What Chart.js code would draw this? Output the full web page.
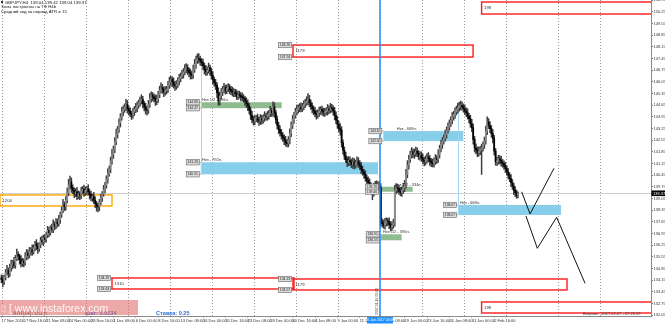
<!DOCTYPE html>
<html>
<head>
<meta charset="utf-8">
<script src="https://cdn.jsdelivr.net/npm/chart.js@4.4.1/dist/chart.umd.min.js"></script>
<style>
  html, body { margin: 0; padding: 0; background: #fff; overflow: hidden; }
  canvas { display: block; }
</style>
</head>
<body>
<canvas id="chart" width="665" height="325"></canvas>
<script>
// GBPJPY H4 closes, one per bar
const firstOpen = 134.30;
const closes = [
  134.20,134.05,134.35,134.60,134.75,134.55,134.90,135.10,135.25,135.05,
  135.45,135.70,135.60,135.40,135.15,135.30,135.20,135.55,135.80,135.65,
  135.90,136.00,135.85,136.10,136.35,136.20,136.05,136.30,136.55,136.45,
  136.70,136.60,136.90,137.15,137.00,137.30,137.20,137.50,137.40,137.65,
  137.55,137.80,138.10,138.35,138.70,138.55,138.95,139.40,139.85,140.05,
  139.70,139.55,139.35,139.45,139.20,139.35,139.25,139.50,139.60,139.40,
  139.55,139.65,139.45,139.30,139.10,139.20,138.95,138.75,138.60,138.55,
  138.85,139.10,139.35,139.60,139.85,140.20,140.55,140.80,141.30,141.70,
  142.00,142.45,142.90,143.20,143.60,143.95,144.25,144.40,144.55,144.70,
  144.45,144.30,144.15,144.05,144.25,144.40,144.50,144.65,144.80,144.90,
  145.00,144.75,144.55,144.40,144.35,144.70,145.05,145.25,145.15,145.05,
  144.90,145.00,145.30,145.55,145.70,145.60,145.45,145.55,145.60,145.85,
  146.05,146.20,146.05,145.90,145.80,145.90,146.10,146.25,146.40,146.50,
  146.65,146.80,146.90,146.75,146.60,146.50,146.45,146.80,147.10,147.35,
  147.45,147.40,147.30,147.20,147.00,146.80,146.65,146.75,146.90,146.70,
  146.45,146.20,146.00,145.85,145.40,144.90,145.20,145.45,145.60,145.70,
  145.55,145.65,145.75,145.60,145.50,145.40,145.45,145.35,145.20,145.30,
  145.25,145.15,145.10,145.05,144.90,144.75,144.60,144.35,144.05,143.80,
  143.70,143.85,143.90,143.80,143.70,143.85,143.75,143.90,144.00,143.95,
  144.05,144.15,144.30,144.20,144.55,144.20,143.80,143.45,143.20,143.00,
  142.85,142.70,142.55,142.40,142.35,142.55,142.95,143.45,143.80,144.05,
  144.25,144.40,144.50,144.55,144.45,144.60,144.70,144.80,144.90,145.00,
  144.80,144.60,144.45,144.30,144.15,144.05,144.20,144.30,144.40,144.30,
  144.20,144.25,144.30,144.45,144.35,144.50,144.45,144.30,144.05,143.75,
  143.50,143.25,143.15,142.40,141.95,141.60,141.40,141.20,141.35,141.25,
  141.10,141.25,141.05,141.20,141.30,141.15,141.00,140.80,140.65,140.50,
  140.30,140.15,140.00,139.85,139.60,139.40,139.70,139.90,139.80,139.85,
  139.75,137.65,137.55,137.45,137.60,137.70,137.65,137.50,137.35,137.45,
  137.60,139.55,139.70,139.65,139.50,139.40,139.55,139.70,139.90,140.50,
  141.05,141.40,141.70,141.85,141.70,141.80,141.90,141.75,141.60,141.65,
  141.50,141.35,141.25,141.40,141.55,141.45,141.30,141.20,141.15,141.30,
  141.45,141.40,141.70,142.05,142.30,142.50,142.70,142.90,143.15,143.35,
  143.55,143.75,143.95,144.10,144.25,144.40,144.50,144.60,144.65,144.55,
  144.45,144.30,144.20,144.00,143.85,143.55,143.30,142.60,142.10,141.95,
  141.80,141.90,142.00,142.10,142.30,142.50,143.10,143.65,143.45,143.25,
  142.95,142.65,141.90,141.25,141.30,141.45,141.35,141.20,141.15,141.00,
  140.85,140.65,140.45,140.25,140.00,139.80,139.55,139.40,139.25,139.37
];

// wick lengths above / below the body, in hundredths of a yen
const upWick = [
  18,25,12,20,30,15,22,26,10,28, 20,32,16,12,24,18,14,26,20,16, 22,12,28,18,14,24,20,10,18,26, 16,20,14,24,18,12,22,28,16,20,
  18,24,14,20,30,16,22,28,36,35, 24,18,14,20,28,16,12,22,18,26, 20,14,24,16,18,12,22,20,14,18, 16,20,12,24,18,22,28,20,24,30,
  20,26,32,18,24,20,28,22,18,30, 24,16,20,14,22,18,26,20,16,24, 28,18,14,22,20,24,30,20,16,18, 22,26,18,24,30,20,16,22,18,24,
  28,20,16,24,18,22,20,26,18,24, 20,28,24,18,16,22,20,26,30,24, 28,30,20,16,22,18,24,20,28,16, 18,22,14,20,16,30,24,20,18,26,
  16,22,20,14,18,24,20,16,22,18, 20,16,24,18,14,20,22,16,18,24, 20,18,14,22,16,24,20,18,26,16, 22,20,28,18,30,24,16,20,18,22,
  20,16,18,24,20,22,28,20,24,18, 22,26,18,20,24,16,22,20,26,35, 24,18,20,16,22,20,18,24,16,20, 18,22,20,24,16,26,20,18,22,20,
  24,20,30,22,18,20,24,16,22,20, 18,24,20,16,26,20,18,22,20,16, 22,18,20,24,16,20,26,18,22,20, 24,20,18,22,26,20,16,24,18,20,
  22,30,24,20,18,22,20,26,24,30, 28,24,20,26,18,22,24,20,18,22, 20,24,18,22,20,26,18,16,22,20, 24,18,28,20,24,22,18,26,20,24,
  22,20,26,18,24,20,28,22,25,20, 18,22,20,24,16,20,26,22,18,24, 20,24,18,22,16,24,30,30,20,22, 18,24,20,16,22,20,18,24,20,16,
  22,18,20,16,24,20,18,22,16,8
];
const loWick = [
  20,30,14,18,12,24,16,20,26,14, 18,12,22,28,20,16,24,14,18,22, 16,24,20,12,18,22,28,16,20,14, 22,18,16,20,24,14,18,20,22,16,
  20,16,24,18,14,22,20,16,18,24, 28,20,24,18,22,16,26,20,18,22, 16,24,20,28,18,22,20,24,30,30, 22,18,24,16,20,18,22,16,20,18,
  24,20,16,22,18,26,20,24,18,22, 28,24,20,26,18,22,20,24,18,20, 18,26,24,28,30,20,18,22,24,20, 26,22,18,20,16,24,28,20,22,18,
  20,24,28,22,26,20,18,24,20,16, 22,18,20,26,24,28,22,20,18,24, 20,22,26,18,24,28,22,20,18,26, 24,28,22,26,30,25,24,18,22,20,
  24,20,18,26,22,20,24,18,20,22, 18,24,20,22,26,24,28,22,26,20, 24,22,18,20,26,20,24,18,22,20, 20,24,18,22,20,28,24,22,26,20,
  24,22,26,20,20,20,22,18,20,24, 18,20,22,24,20,18,22,20,16,22, 24,20,26,22,20,24,18,22,20,24, 20,22,18,24,20,16,22,24,28,20,
  24,22,30,26,24,22,20,24,18,22, 20,24,22,18,20,24,22,26,20,24, 22,24,20,26,24,42,20,22,18,24, 20,26,22,18,24,20,22,26,24,20,
  18,20,22,24,20,18,22,20,24,22, 20,24,18,22,20,24,22,18,20,24, 22,20,24,18,22,20,26,24,20,22, 20,24,18,22,20,24,18,20,22,18,
  20,18,22,20,24,18,22,20,24,20, 22,20,24,18,26,22,24,28,26,22, 24,20,22,150,20,24,18,22,20,24, 22,26,24,20,22,18,24,20,22,20,
  24,20,22,18,24,20,26,24,18,16
];

// axes
const xTickBars = [0,16,32,48,64,80,96,112,128,144,160,176,192,208,224,240,256,272,288,304,320,336,352];
const xTickLabels = [
  "17 Nov 2016","17 Nov 16:00","21 Nov 08:00","24 Nov 00:00","28 Nov 16:00","1 Dec 08:00",
  "6 Dec 00:00","8 Dec 16:00","13 Dec 08:00","16 Dec 00:00","20 Dec 16:00","23 Dec 08:00",
  "28 Dec 00:00","30 Dec 16:00","4 Jan 08:00","9 Jan 00:00","11 Jan 16:00","16 Jan 08:00",
  "19 Jan 00:00","23 Jan 16:00","26 Jan 08:00","31 Jan 00:00","2 Feb 16:00"
];
const gridBars = [1,31,61,91,121,151,181,211,241,271,301,331,361,398,428];
const yTickValues = [132.05,132.75,133.45,134.15,134.85,135.55,136.25,136.95,137.65,138.35,139.05,139.75,140.45,141.15,
  141.85,142.55,143.25,143.95,144.65,145.35,146.05,146.75,147.45,148.15,148.85,149.55,150.25,150.95];
const yTickLabels = ["132.05","132.75","133.45","134.15","134.85","135.55","136.25","136.95","137.65","138.35","139.05",
  "139.75","140.45","141.15","141.85","142.55","143.25","143.95","144.65","145.35","146.05","146.75","147.45","148.15",
  "148.85","149.55","150.25","150.95"];

// zones drawn on the chart (bar index / price)
const zoneKind  = ['level','target','target','half','full','full','half','half','full','target','target','target'];
const zoneText  = ['1204','198','1179','Нкз 1/2 - 396п.','Нкз - 792п.','Нкз - 668п.','Нкз 1/2 - 334п.','Нкз 1/2 - 396п.','Нкз - 668п.','1310','1179','198'];
const zoneStart = [-1, 343, 208.3, 142.4, 142.4, 272.8, 270.4, 270.9, 326.1, 79, 208.3, 343];
const zoneEnd   = [79, 470, 336.9, 200.2, 269, 329.9, 293.8, 285.9, 399.7, 209, 404, 470];
const zoneHigh  = [139.27, 150.84, 148.26, 144.83, 141.23, 143.10, 139.76, 136.91, 138.67, 134.29, 134.23, 132.85];
const zoneLow   = [138.61, 150.12, 147.54, 144.47, 140.51, 142.50, 139.46, 136.55, 138.07, 133.63, 133.57, 132.19];
const zoneTextBar = [null, null, null, 143.3, 143.3, 282.4, 281.1, 272.6, 327.6, null, null, null];
const zoneTagged  = [false, false, true, true, true, true, true, true, true, true, true, false];

// thin guide lines from zones
const guideBar = [142.4, 326.1];
const guideTop = [147.4, 144.75];
const guideBottom = [140.51, 138.07];

// forecast paths
const fcAbars = [371.6, 377.6, 394.7];
const fcAprices = [139.46, 138.13, 140.87];
const fcBbars = [374.7, 382.8, 396.6, 416.9];
const fcBprices = [138.01, 136.07, 137.93, 133.97];

const eventBar = 270.4;
const lastPrice = 139.37;

const opens = closes.map((c, i) => i === 0 ? firstOpen : closes[i - 1]);
const highs = closes.map((c, i) => Math.max(opens[i], c) + upWick[i] / 100);
const lows = closes.map((c, i) => Math.min(opens[i], c) - loWick[i] / 100);
const isUp = closes.map((c, i) => c >= opens[i]);

const FONT = "'Liberation Sans', Arial, sans-serif";

function txt(ctx, s, x, y, size, color, align, base, bold) {
  ctx.font = (bold ? 'bold ' : '') + size + 'px ' + FONT;
  ctx.fillStyle = color;
  ctx.textAlign = align || 'left';
  ctx.textBaseline = base || 'alphabetic';
  ctx.fillText(s, x, y);
}

const overlay = {
  id: 'overlay',
  beforeDatasetsDraw(chart) {
    const { ctx, chartArea: a, scales: { x, y } } = chart;
    ctx.save();
    ctx.beginPath(); ctx.rect(a.left, a.top, a.width, a.height); ctx.clip();

    const py = Math.round(y.getPixelForValue(lastPrice)) + 0.5;
    ctx.strokeStyle = '#cfcfcf'; ctx.lineWidth = 1;
    ctx.beginPath(); ctx.moveTo(a.left, py); ctx.lineTo(a.right, py); ctx.stroke();

    zoneKind.forEach((k, i) => {
      const x0 = x.getPixelForValue(zoneStart[i]), x1 = x.getPixelForValue(zoneEnd[i]);
      const y0 = y.getPixelForValue(zoneHigh[i]), y1 = y.getPixelForValue(zoneLow[i]);
      if (k === 'full' || k === 'half') {
        ctx.fillStyle = k === 'full' ? '#87ceeb' : '#8fbc8f';
        ctx.fillRect(x0, y0, x1 - x0, y1 - y0);
      } else {
        ctx.strokeStyle = k === 'level' ? '#ffa500' : '#ff1a1a';
        ctx.lineWidth = 1.4;
        ctx.strokeRect(x0, y0, x1 - x0, y1 - y0);
      }
    });

    ctx.strokeStyle = '#9fd8ee'; ctx.lineWidth = 1;
    guideBar.forEach((b, i) => {
      const gx = Math.round(x.getPixelForValue(b)) + 0.5;
      ctx.beginPath();
      ctx.moveTo(gx, y.getPixelForValue(guideTop[i]));
      ctx.lineTo(gx, y.getPixelForValue(guideBottom[i]));
      ctx.stroke();
    });
    ctx.restore();
  },
  afterDatasetsDraw(chart) {
    const { ctx, chartArea: a, scales: { x, y } } = chart;
    ctx.save();
    ctx.beginPath(); ctx.rect(a.left, a.top, a.width, a.height); ctx.clip();

    // vertical event line
    const ex = x.getPixelForValue(eventBar);
    ctx.strokeStyle = '#1e90ff'; ctx.lineWidth = 1.5;
    ctx.beginPath(); ctx.moveTo(ex, a.top); ctx.lineTo(ex, a.bottom); ctx.stroke();

    zoneKind.forEach((k, i) => {
      const x0 = x.getPixelForValue(zoneStart[i]);
      const y0 = y.getPixelForValue(zoneHigh[i]), y1 = y.getPixelForValue(zoneLow[i]);
      if (k === 'full' || k === 'half') {
        txt(ctx, zoneText[i], x.getPixelForValue(zoneTextBar[i]), y0 - 1, 4, '#333');
      } else {
        txt(ctx, zoneText[i], Math.max(x0, a.left) + 2.5, (y0 + y1) / 2 + 0.3, 4.2, '#333', 'left', 'middle');
      }
      if (zoneTagged[i]) {
        [zoneHigh[i], zoneLow[i]].forEach(p => {
          const ty = y.getPixelForValue(p);
          ctx.fillStyle = '#dcdcdc';
          ctx.fillRect(x0 - 14.5, ty - 2.7, 13, 5.4);
          ctx.strokeStyle = '#666'; ctx.lineWidth = 0.6;
          ctx.strokeRect(x0 - 14.5, ty - 2.7, 13, 5.4);
          ctx.beginPath(); ctx.moveTo(x0 - 1.5, ty); ctx.lineTo(x0, ty); ctx.stroke();
          txt(ctx, p.toFixed(2), x0 - 8, ty + 0.2, 3.4, '#222', 'center', 'middle');
        });
      }
    });

    // rotated note along the event line
    ctx.save();
    ctx.translate(ex - 1.5, a.bottom - 1);
    ctx.rotate(-Math.PI / 2);
    txt(ctx, '2017.01.16 00:00', 0, 0, 3.5, '#444');
    ctx.restore();
    ctx.restore();
  },
  afterDraw(chart) {
    const { ctx, chartArea: a, scales: { x, y } } = chart;
    ctx.save();
    // header
    ctx.fillStyle = '#333'; ctx.fillRect(1, 1, 2, 2);
    txt(ctx, 'GBPJPY,H4  139.04 139.42 139.04 139.37', 5, 3.8, 4.3, '#111');
    txt(ctx, 'Зоны построены на ТФ Н4b', 1, 8.3, 4.3, '#111');
    txt(ctx, 'Средний ход за период ATR = 15', 1, 12.7, 4.3, '#111');

    // bottom info texts and watermark
    txt(ctx, 'ATR(14): 151 п.', 13, 314.5, 5, '#444');
    txt(ctx, 'Шаг: 0.0134', 85, 315, 5.6, '#2a6fd6', 'left', 'alphabetic', true);
    txt(ctx, 'Ставка: 0.25', 156, 315, 5.6, '#2a6fd6', 'left', 'alphabetic', true);
    ctx.fillStyle = 'rgba(222, 96, 96, 0.55)';
    ctx.fillRect(0, 300, 138, 15);
    ctx.strokeStyle = 'rgba(255,255,255,0.8)'; ctx.lineWidth = 0.6;
    ctx.strokeRect(2, 306, 3, 6);
    txt(ctx, '[ www.instaforex.com', 9, 312, 10.5, 'rgba(255,255,255,0.92)');
    txt(ctx, 'Вторник : 2017.02.07 - 07:25:59', 583, 315, 4, '#333');

    // current price tag on the axis
    const py = y.getPixelForValue(lastPrice);
    ctx.fillStyle = '#000'; ctx.fillRect(a.right + 0.5, py - 2.8, 14, 5.6);
    txt(ctx, '139.37', a.right + 2, py + 0.2, 4, '#fff', 'left', 'middle');

    // event date tag on the time axis
    const ex = x.getPixelForValue(eventBar);
    ctx.fillStyle = '#1e90ff'; ctx.fillRect(ex - 13, a.bottom + 1, 26, 6.5);
    txt(ctx, '16 Jan 2017 00:00', ex, a.bottom + 4.4, 3.6, '#fff', 'center', 'middle');
    ctx.restore();
  }
};

const ctx = document.getElementById('chart').getContext('2d');

const chart = new Chart(ctx, {
  type: 'bar',
  data: {
    datasets: [
      {
        type: 'line', xAxisID: 'x', yAxisID: 'y', order: 1,
        data: fcAbars.map((b, i) => ({ x: b, y: fcAprices[i] })),
        borderColor: '#111', borderWidth: 1, pointRadius: 0, tension: 0
      },
      {
        type: 'line', xAxisID: 'x', yAxisID: 'y', order: 1,
        data: fcBbars.map((b, i) => ({ x: b, y: fcBprices[i] })),
        borderColor: '#111', borderWidth: 1, pointRadius: 0, tension: 0
      },
      {
        label: 'wick', xAxisID: 'x', yAxisID: 'y', order: 3,
        data: closes.map((c, i) => ({ x: i, y: [lows[i], highs[i]] })),
        backgroundColor: '#3a3a3a', barThickness: 0.8, grouped: false
      },
      {
        label: 'body', xAxisID: 'x', yAxisID: 'y', order: 2,
        data: closes.map((c, i) => ({ x: i, y: [opens[i], c] })),
        backgroundColor: isUp.map(u => u ? '#8c8c8c' : '#000'),
        barThickness: 1.1, minBarLength: 1, grouped: false
      }
    ]
  },
  options: {
    responsive: false,
    animation: false,
    devicePixelRatio: 1,
    events: [],
    layout: { padding: 0, autoPadding: false },
    plugins: { legend: { display: false }, tooltip: { enabled: false } },
    scales: {
      x: {
        type: 'linear', position: 'bottom', min: -1, max: 464, offset: false,
        afterBuildTicks: s => { s.ticks = xTickBars.map(v => ({ value: v })); },
        afterFit: s => { s.height = 9; s.paddingLeft = 0; s.paddingRight = 0; },
        ticks: {
          autoSkip: false, maxRotation: 0, minRotation: 0, align: 'start', padding: 1,
          font: { size: 4, family: FONT }, color: '#333',
          callback: (v, i) => xTickLabels[i]
        },
        grid: { offset: false, drawOnChartArea: false, drawTicks: true, tickLength: 1.5, color: '#777' },
        border: { display: true, color: '#8a8a8a' }
      },
      x2: {
        type: 'linear', position: 'top', min: -1, max: 464, offset: false,
        afterBuildTicks: s => { s.ticks = gridBars.map(v => ({ value: v })); },
        afterFit: s => { s.height = 0; s.paddingLeft = 0; s.paddingRight = 0; },
        ticks: { display: false },
        grid: { offset: false, color: '#9a9a9a', lineWidth: 1, drawTicks: false },
        border: { display: false, dash: [1, 2] }
      },
      y: {
        position: 'right', min: 132.01, max: 150.96,
        afterBuildTicks: s => { s.ticks = yTickValues.map(v => ({ value: v })); },
        afterFit: s => { s.width = 14; s.paddingTop = 0; s.paddingBottom = 0; },
        ticks: {
          autoSkip: false, padding: 0.5, font: { size: 4, family: FONT }, color: '#333',
          callback: (v, i) => yTickLabels[i]
        },
        grid: { drawOnChartArea: false, drawTicks: true, tickLength: 2, color: '#777' },
        border: { display: true, color: '#8a8a8a' }
      }
    }
  },
  plugins: [overlay]
});
</script>
</body>
</html>
